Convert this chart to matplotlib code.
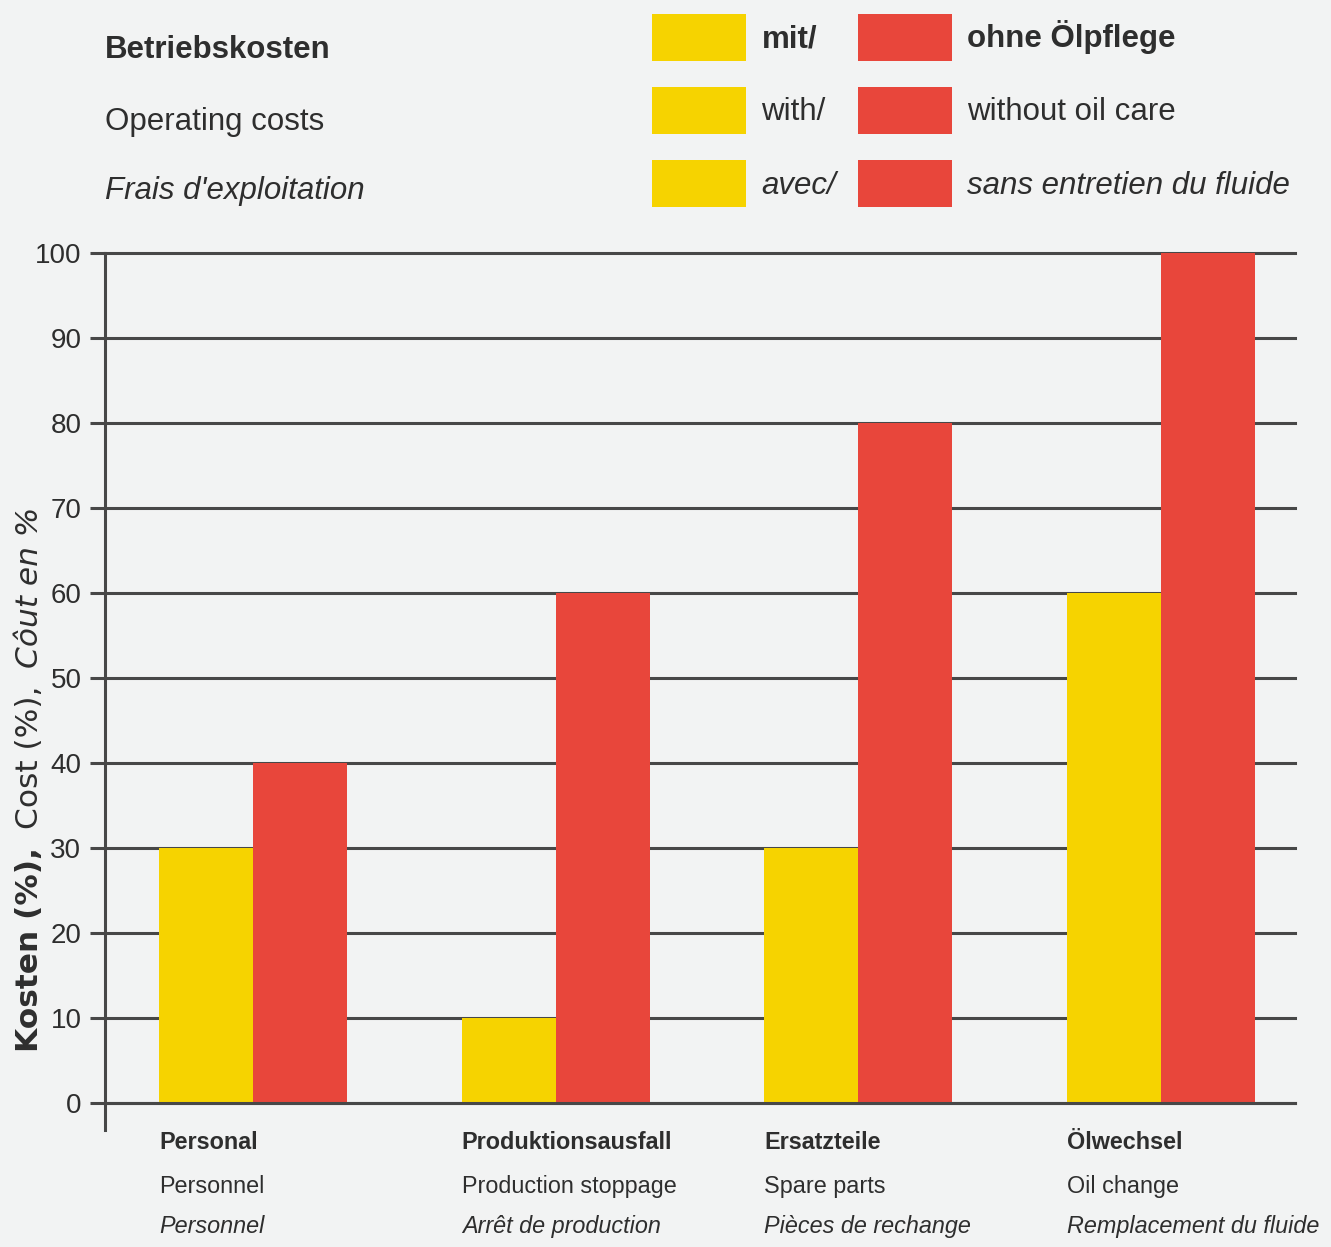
import numpy as np
import matplotlib
matplotlib.use("Agg")
import matplotlib.pyplot as plt
from matplotlib.patches import Patch

# Data
categories_de = ["Personal", "Produktionsausfall", "Ersatzteile", "Ölwechsel"]
categories_en = ["Personnel", "Production stoppage", "Spare parts", "Oil change"]
categories_fr = ["Personnel", "Arrêt de production", "Pièces de rechange", "Remplacement du fluide"]
with_care = [30, 10, 30, 60]
without_care = [40, 60, 80, 100]
y_ticks = list(range(0, 101, 10))

title_lines = ["Betriebskosten", "Operating costs", "Frais d'exploitation"]
legend_with = ["mit/", "with/", "avec/"]
legend_without = ["ohne Ölpflege", "without oil care", "sans entretien du fluide"]
ylabel_parts = ["Kosten (%),", "Cost (%),", "Côut en %"]

# Style
W, H = 1331, 1247
BG = "#f2f3f3"
YELLOW = "#f6d300"
RED = "#e8463b"
GRID = "#474747"
TEXT = "#2e2e2e"
SANS = ["Liberation Sans", "DejaVu Sans"]
WIDE = ["DejaVu Sans"]

fig = plt.figure(figsize=(W / 100, H / 100), dpi=100)
fig.patch.set_facecolor(BG)
ax = fig.add_axes([105 / W, (H - 1130) / H, 1190 / W, 877 / H])
ax.set_facecolor(BG)

bar_w = 0.3105
x = np.arange(len(categories_de))
ax.bar(x - bar_w / 2, with_care, bar_w, color=YELLOW, zorder=2, linewidth=0)
ax.bar(x + bar_w / 2, without_care, bar_w, color=RED, zorder=2, linewidth=0)

ax.set_xlim(-0.489, 3.442)
ax.set_ylim(-3.18, 100)
ax.set_yticks(y_ticks)
ax.set_yticklabels([str(v) for v in y_ticks], fontfamily=SANS)
ax.yaxis.grid(True, color=GRID, linewidth=2.2, zorder=1)
ax.set_axisbelow(True)
for gl in ax.get_ygridlines():
    gl.set_clip_on(False)
ax.axhline(0, color=GRID, linewidth=2.2, zorder=3, clip_on=False)

ax.tick_params(axis="y", length=11, width=2.2, color=GRID, pad=6,
               labelsize=20, labelcolor=TEXT)
ax.tick_params(axis="x", bottom=False, labelbottom=False)
for side in ("top", "right", "bottom"):
    ax.spines[side].set_visible(False)
ax.spines["left"].set_color(GRID)
ax.spines["left"].set_linewidth(2.2)

# Category labels under each pair of bars (German / English / French)
offsets_pt = [28.8, 59.8, 89.3]
styles = [("bold", "normal"), ("normal", "normal"), ("normal", "italic")]
for i in range(len(categories_de)):
    for label, off, (wt, st) in zip(
            (categories_de[i], categories_en[i], categories_fr[i]), offsets_pt, styles):
        ax.annotate(label, xy=(x[i] - bar_w, 0), xytext=(0, -off),
                    textcoords="offset points", ha="left", va="center",
                    fontsize=16.8, fontweight=wt, fontstyle=st,
                    fontfamily=SANS, color=TEXT, annotation_clip=False)

# Title block
title_y = [50, 122, 191]
for line, ypx, (wt, st) in zip(title_lines, title_y, styles):
    fig.text(105 / W, 1 - ypx / H, line, ha="left", va="center",
             fontsize=22.5, fontweight=wt, fontstyle=st,
             fontfamily=SANS, color=TEXT)

# Legend: yellow = with oil care, red = without oil care
handles = [Patch(facecolor=YELLOW, edgecolor="none")] * 3 + \
          [Patch(facecolor=RED, edgecolor="none")] * 3
leg = fig.legend(handles, legend_with + legend_without, ncol=2,
                 loc="upper left", bbox_to_anchor=(652 / W, 1 - 14 / H),
                 frameon=False, borderpad=0, borderaxespad=0,
                 handlelength=3.0, handleheight=1.94, handletextpad=0.5,
                 labelspacing=0.83, columnspacing=0.7,
                 prop={"family": SANS, "size": 22.5})
for i, t in enumerate(leg.get_texts()):
    wt, st = styles[i % 3]
    t.set_fontweight(wt)
    t.set_fontstyle(st)
    t.set_color(TEXT)

# Rotated y-axis label made of three styled parts
renderer = fig.canvas.get_renderer()
ypos = H - 1052
gap = 18
for part, (wt, st) in zip(ylabel_parts, styles):
    t = fig.text(30 / W, ypos / H, part, rotation=90, ha="center", va="bottom",
                 fontsize=22.5, fontweight=wt, fontstyle=st,
                 fontfamily=WIDE, color=TEXT)
    bb = t.get_window_extent(renderer)
    ypos = bb.y1 + gap

fig.savefig("out.png", dpi=100, facecolor=BG)
